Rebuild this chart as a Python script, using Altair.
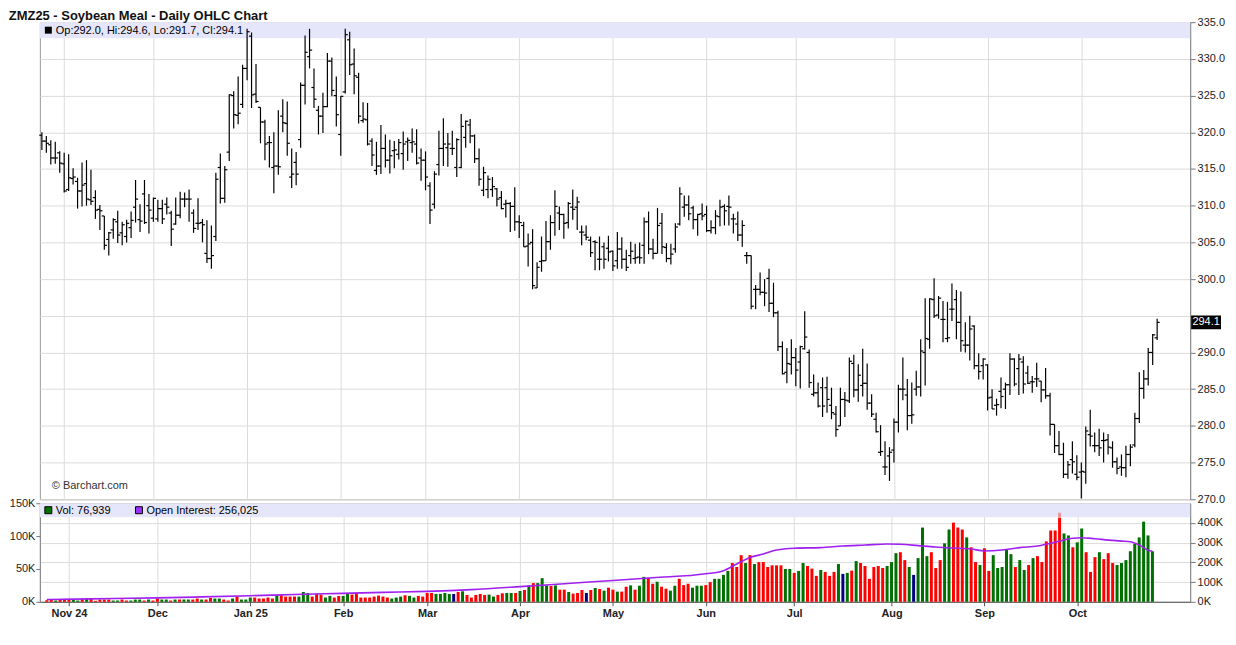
import altair as alt
import pandas as pd

# ---------------- data ----------------
opens = [319.6, 318.8, 318.3, 316.5, 317.2, 315.7, 312.2, 313.7, 313.3, 312.0,
         313.0, 310.8, 311.1, 309.5, 308.6, 305.4, 306.7, 307.8, 306.3, 305.8,
         307.0, 309.8, 308.1, 311.6, 310.0, 308.3, 308.2, 309.6, 310.2, 309.0,
         307.5, 308.7, 310.9, 310.9, 309.0, 307.6, 307.7, 303.5, 302.8, 305.8,
         315.2, 311.0, 317.3, 325.0, 322.3, 323.8, 328.7, 333.1, 325.2, 323.4,
         321.4, 318.6, 315.2, 315.4, 322.2, 321.2, 313.9, 315.9, 319.0, 326.4,
         330.3, 326.1, 323.0, 322.2, 323.5, 329.7, 325.0, 319.7, 325.5, 332.6,
         329.3, 327.5, 321.6, 321.7, 318.8, 314.8, 315.4, 317.8, 316.2, 317.5,
         317.0, 317.1, 318.7, 318.6, 318.4, 316.5, 316.2, 312.7, 310.2, 315.6,
         317.8, 317.9, 317.8, 315.2, 315.2, 319.3, 321.0, 319.5, 316.4, 312.1,
         312.2, 312.2, 312.3, 311.1, 310.2, 310.3, 309.9, 307.8, 307.3, 304.5,
         305.0, 298.8, 302.4, 302.5, 305.1, 307.7, 309.0, 308.8, 307.7, 309.8,
         309.8, 306.4, 306.0, 305.3, 305.1, 302.7, 304.4, 304.2, 303.8, 302.5,
         304.1, 302.7, 303.2, 302.8, 303.0, 304.6, 307.8, 304.1, 303.5, 307.6,
         304.3, 302.8, 304.1, 307.5, 309.8, 310.1, 309.7, 308.1, 308.9, 308.8,
         306.6, 307.0, 308.5, 309.9, 309.9, 308.2, 307.5, 306.0, 303.2, 303.2,
         298.6, 298.6, 298.2, 300.1, 296.7, 295.4, 290.8, 287.3, 288.4, 289.3,
         288.7, 290.5, 290.0, 284.3, 284.5, 285.2, 285.2, 282.8, 281.6, 280.0,
         283.6, 283.4, 288.5, 284.9, 285.5, 285.8, 283.1, 280.9, 276.4, 274.4,
         275.9, 276.7, 280.5, 285.0, 284.2, 281.4, 285.0, 285.3, 290.0, 291.8,
         297.2, 295.1, 294.5, 291.9, 295.9, 297.2, 294.1, 291.0, 291.0, 293.6,
         288.2, 288.2, 288.3, 283.9, 282.8, 284.7, 285.0, 285.6, 289.1, 287.8,
         288.7, 287.2, 286.0, 286.4, 286.1, 284.9, 284.1, 280.2, 277.3, 276.1,
         273.4, 275.4, 273.4, 273.7, 273.7, 278.8, 277.3, 277.3, 278.0, 278.1,
         277.0, 275.1, 274.4, 274.3, 276.1, 277.4, 281.0, 285.1, 286.4, 290.0,
         292.0]
highs = [320.0, 319.5, 318.9, 318.7, 317.4, 317.2, 317.0, 315.1, 313.8, 315.9,
         316.2, 314.9, 312.1, 310.1, 308.6, 306.4, 308.3, 309.3, 307.8, 308.1,
         309.2, 313.5, 310.2, 313.5, 311.6, 311.1, 310.8, 310.8, 311.1, 309.3,
         311.1, 311.9, 311.8, 312.2, 309.5, 311.0, 308.2, 308.0, 307.3, 314.5,
         317.1, 315.4, 325.2, 325.6, 327.6, 329.2, 334.1, 333.6, 329.3, 323.4,
         321.7, 319.5, 320.0, 323.0, 324.5, 324.2, 317.8, 317.3, 326.8, 333.2,
         334.1, 328.7, 323.6, 325.4, 330.8, 330.2, 327.6, 324.9, 334.1, 333.7,
         331.4, 328.1, 324.1, 324.0, 319.2, 318.7, 321.0, 319.7, 319.0, 318.8,
         319.1, 320.1, 319.3, 320.5, 320.4, 317.8, 317.4, 313.2, 314.7, 320.2,
         321.9, 319.9, 320.2, 319.2, 322.5, 321.6, 321.8, 319.7, 317.8, 315.3,
         314.1, 313.9, 312.4, 312.0, 310.8, 310.5, 312.5, 308.7, 307.8, 306.2,
         306.8, 302.3, 305.8, 307.9, 308.7, 312.1, 309.9, 308.9, 310.5, 312.2,
         311.2, 307.3, 307.3, 305.8, 305.3, 305.8, 305.0, 305.9, 303.9, 306.4,
         305.7, 304.0, 305.1, 304.8, 305.0, 308.4, 309.2, 305.5, 309.7, 309.0,
         304.9, 304.8, 307.6, 312.5, 311.4, 311.4, 310.0, 308.9, 310.3, 310.0,
         308.0, 309.4, 310.8, 310.2, 311.4, 308.9, 309.2, 308.0, 303.7, 303.2,
         299.2, 300.9, 300.0, 301.4, 299.5, 295.7, 291.5, 290.6, 291.8, 290.6,
         290.9, 295.6, 290.4, 287.0, 285.9, 286.6, 286.7, 285.2, 282.7, 285.2,
         284.6, 289.3, 289.7, 288.4, 290.5, 288.5, 284.3, 281.8, 280.1, 277.9,
         277.1, 281.0, 285.6, 289.3, 286.4, 285.9, 287.5, 291.8, 297.4, 297.4,
         300.1, 297.7, 297.0, 296.9, 299.4, 298.5, 298.3, 294.1, 295.0, 293.7,
         289.9, 289.2, 288.4, 285.0, 283.7, 286.6, 285.9, 289.9, 289.2, 289.8,
         289.5, 288.2, 286.8, 288.6, 286.1, 287.9, 284.5, 280.2, 279.3, 277.7,
         275.2, 277.9, 276.0, 275.0, 279.9, 282.2, 279.1, 279.6, 279.1, 278.9,
         277.9, 275.7, 276.1, 277.3, 277.5, 281.8, 287.3, 287.6, 290.6, 292.5,
         294.6]
lows = [317.6, 317.2, 315.6, 315.7, 314.5, 311.8, 312.0, 312.9, 309.6, 309.9,
        310.0, 310.1, 308.2, 306.7, 304.0, 303.2, 305.5, 304.9, 304.6, 305.0,
        305.6, 307.7, 306.4, 307.5, 306.2, 307.8, 307.8, 307.5, 308.8, 304.5,
        307.4, 308.3, 309.8, 307.8, 306.3, 306.7, 305.0, 302.2, 301.4, 305.2,
        310.3, 310.4, 316.1, 320.5, 321.1, 323.3, 327.1, 323.3, 324.0, 318.5,
        316.2, 315.2, 311.7, 314.2, 320.0, 316.8, 312.4, 312.8, 317.9, 323.8,
        328.7, 323.3, 319.7, 319.9, 323.4, 324.9, 320.8, 316.8, 325.3, 327.8,
        325.2, 321.2, 321.3, 318.2, 315.4, 314.2, 314.3, 315.2, 314.4, 315.1,
        316.3, 314.9, 316.1, 317.2, 315.6, 313.4, 312.1, 307.5, 309.6, 314.1,
        315.4, 315.3, 316.9, 313.9, 315.1, 317.9, 318.5, 315.8, 312.7, 311.3,
        311.0, 311.2, 309.9, 309.5, 308.4, 306.4, 306.6, 305.6, 304.4, 301.7,
        298.6, 298.8, 301.0, 302.5, 304.0, 305.9, 306.7, 305.5, 306.9, 308.1,
        306.7, 304.6, 305.3, 303.0, 301.2, 301.2, 301.4, 302.4, 301.1, 301.4,
        301.4, 301.1, 302.1, 302.1, 302.1, 302.1, 303.4, 302.7, 303.5, 303.4,
        302.3, 302.0, 303.6, 307.3, 308.5, 308.0, 306.8, 305.9, 308.0, 306.4,
        306.2, 306.1, 307.2, 307.3, 307.3, 306.2, 305.2, 304.4, 302.1, 295.9,
        295.9, 297.8, 296.3, 295.5, 294.8, 290.2, 287.0, 285.8, 287.0, 285.4,
        285.1, 290.4, 285.2, 284.0, 282.5, 281.2, 281.8, 280.9, 278.5, 280.0,
        281.2, 283.1, 283.9, 283.3, 284.0, 282.2, 281.2, 279.1, 275.9, 273.3,
        272.5, 275.0, 279.1, 283.5, 279.4, 280.3, 284.1, 284.0, 285.5, 290.5,
        294.7, 294.6, 291.4, 291.4, 294.3, 291.8, 290.1, 290.0, 288.9, 287.7,
        286.3, 286.3, 282.1, 282.3, 281.4, 282.4, 282.3, 284.2, 285.4, 284.2,
        284.4, 285.7, 284.5, 285.3, 283.2, 283.7, 278.7, 276.3, 276.0, 272.9,
        272.8, 273.5, 272.6, 270.1, 272.1, 277.2, 276.4, 275.9, 275.0, 276.1,
        274.3, 273.4, 273.2, 273.0, 274.5, 277.1, 280.4, 283.7, 285.5, 288.3,
        291.7]
closes = [318.8, 318.5, 316.5, 316.5, 315.8, 312.0, 313.8, 313.9, 312.0, 312.8,
          310.9, 310.6, 309.4, 309.3, 304.6, 306.3, 308.1, 306.0, 307.4, 307.6,
          308.0, 310.9, 307.9, 307.7, 309.4, 311.0, 309.6, 308.2, 309.8, 306.8,
          308.7, 310.9, 310.9, 310.9, 306.9, 307.6, 307.4, 302.8, 303.2, 313.6,
          311.0, 314.9, 325.1, 322.4, 322.6, 328.7, 333.7, 325.1, 324.2, 321.4,
          318.4, 318.6, 315.4, 315.3, 321.3, 318.5, 314.3, 314.3, 326.4, 330.9,
          331.2, 324.5, 322.2, 323.5, 329.7, 325.7, 322.4, 324.9, 333.3, 329.2,
          327.7, 322.2, 321.8, 318.4, 316.9, 315.4, 317.8, 316.2, 316.8, 317.6,
          318.6, 318.4, 318.9, 318.7, 315.8, 316.2, 313.9, 309.4, 314.3, 317.8,
          318.4, 318.4, 317.8, 319.0, 320.8, 321.5, 319.5, 316.4, 313.6, 314.5,
          313.6, 312.6, 310.9, 309.6, 310.3, 309.9, 307.8, 307.7, 304.4, 304.8,
          299.1, 301.6, 302.5, 305.1, 307.7, 309.9, 308.8, 307.6, 310.3, 309.5,
          310.5, 306.4, 305.7, 303.6, 305.0, 302.7, 302.7, 303.7, 301.8, 304.1,
          302.7, 301.6, 303.8, 302.9, 302.9, 307.8, 304.1, 303.5, 307.3, 304.4,
          302.8, 303.4, 307.1, 311.6, 310.1, 308.9, 308.1, 308.8, 308.6, 306.6,
          307.0, 308.6, 309.8, 309.3, 309.8, 308.2, 306.0, 307.3, 303.2, 296.3,
          298.6, 298.2, 298.1, 296.7, 295.4, 290.8, 287.1, 288.5, 289.3, 287.6,
          290.8, 292.1, 285.9, 284.5, 282.7, 282.7, 283.6, 281.8, 279.5, 283.6,
          283.5, 288.8, 284.9, 286.9, 285.8, 283.1, 281.6, 279.2, 276.5, 274.4,
          276.4, 280.5, 285.0, 285.0, 281.4, 281.5, 285.3, 290.2, 291.9, 297.3,
          295.0, 297.4, 294.5, 292.0, 295.9, 294.1, 291.6, 291.0, 293.2, 288.2,
          287.4, 289.1, 283.8, 282.3, 282.9, 284.0, 285.6, 289.1, 285.7, 289.1,
          285.7, 285.8, 286.0, 286.4, 284.9, 284.1, 280.2, 277.3, 276.1, 273.4,
          274.7, 275.1, 273.0, 273.8, 279.3, 278.6, 277.3, 277.0, 278.0, 277.1,
          275.1, 274.2, 274.3, 276.1, 277.1, 281.0, 285.1, 286.4, 290.0, 292.4,
          294.1]

# daily volume in thousands (left axis) and its colour code (g up, r down, n unchanged)
vol_k = [2.5, 3.5, 2, 3, 4.5, 4.5, 3.5, 2, 4, 5,
         5, 1.5, 3.5, 3.5, 3.5, 2, 2, 3.5, 2, 2,
         3.5, 3.5, 2, 3.5, 2, 5, 3.5, 3.5, 2, 3.5,
         3.5, 3.5, 3.5, 3.5, 5, 3.5, 3.5, 6, 5, 5,
         3.5, 2, 5, 8, 3.5, 3.5, 6.5, 6.5, 5, 5,
         6.5, 5, 9.5, 10, 8, 8, 8, 8, 15, 13.5,
         8, 12, 11, 6.5, 9, 6.5, 9, 9, 12, 11,
         13.5, 6.5, 6.5, 6.5, 8, 9.5, 8, 6.5, 5, 6.5,
         8, 10, 9, 6.5, 9, 8, 13.5, 13.5, 12, 12,
         13.5, 12, 12, 15, 16, 10.5, 6.5, 10.5, 12, 10.5,
         11, 8, 10.5, 13, 13.5, 13.5, 13.5, 16.5, 18, 25,
         28.5, 28.5, 36, 25, 24, 25, 18.5, 18.5, 15, 12.5,
         13.5, 18, 13.5, 18, 21, 19.5, 17, 21.5, 18.5, 15.5,
         15.5, 23, 25, 18.5, 24.5, 38, 36.5, 27.5, 30.5, 23,
         20, 17, 24.5, 35, 25.5, 27.5, 21.5, 24.5, 24.5, 25.5,
         30, 35, 35, 41, 47, 59, 53, 71, 59, 71,
         57.5, 60.5, 60.5, 53, 55.5, 55.5, 55.5, 50, 50, 44,
         47, 59, 54.5, 50.5, 39.5, 48.5, 45.5, 39.5, 45.5, 57.5,
         42.5, 44, 47.5, 62, 59, 54.5, 35, 53, 54.5, 51.5,
         54.5, 60.5, 74, 75.5, 63.5, 53, 41, 66.5, 113, 69.5,
         75.5, 51.5, 63.5, 89, 110, 120.5, 113, 110, 98, 83,
         60.5, 56, 81.5, 47, 71, 51.5, 53, 80, 72.5, 53,
         63.5, 48.5, 56, 66.5, 69.5, 60.5, 92, 108.5, 108.5, 128,
         104, 101, 83, 90.5, 111.5, 75.5, 45.5, 68, 75.5, 65,
         74, 59, 56, 59, 63.5, 77, 88, 98, 122, 101,
         76.9]
vol_col = list("rrgrrrggrg" "rrrrrggrrg" "ggrgrrggrg" "rggrrgrrgg" "rrgrgggrrr"
               "rrgrrrrggg" "rrrggrrggr" "rrrrrrrrgg" "grggrrrrgg" "ggnrgrrrrr"
               "ggrrggrgrg" "rgggrgrrgr" "rrnrgrgrrg" "rrgrggrrgr" "rggrrrgggr"
               "rggggrrrgr" "grrrrrrggr" "ggrrrgrrrg" "ngrgrrrrrr" "gggrrgnggg"
               "rrrggrrrgr" "rgrrgggggr" "ggrgrrrrrr" "ggrggrrrgr" "rrgggggggg"
               "g")
extra_idx = [229]          # light-red top part of one volume bar
extra_lo = [128]
extra_hi = [135.5]

# open interest (thousands, right axis of the lower panel)
oi_idx = [0, 10, 25, 35, 46, 56, 67, 76, 86, 96, 107, 117, 128, 137, 149, 153, 156,
          159, 162, 165, 169, 175, 180, 185, 190, 193, 197, 201, 205, 209, 212, 216,
          220, 224, 227, 229, 232, 234, 237, 240, 243, 245, 247, 249, 250]
oi_k = [12, 15, 20, 25, 31, 37, 43, 48, 53, 62, 77, 92, 108, 122, 142, 158, 192,
        225, 242, 263, 272, 275, 283, 288, 293, 292, 285, 278, 273, 268, 258, 263,
        275, 283, 297, 308, 322, 325, 320, 313, 308, 305, 288, 262, 256]

month_idx = [5, 25, 46, 67, 86, 107, 128, 149, 169, 191, 212, 233]
month_lbl = ["Nov 24", "Dec", "Jan 25", "Feb", "Mar", "Apr", "May", "Jun", "Jul",
             "Aug", "Sep", "Oct"]
price_ticks = [270, 275, 280, 285, 290, 295, 300, 305, 310, 315, 320, 325, 330, 335]
vol_ticks = [0, 50, 100, 150]
oi_ticks = [0, 100, 200, 300, 400]
last_volume = "76,939"
last_oi = "256,025"
title_txt = "ZMZ25 - Soybean Meal - Daily OHLC Chart"

# ---------------- chart ----------------
n = len(closes)
idx = list(range(n))
ohlc = pd.DataFrame({"i": idx, "o": opens, "h": highs, "l": lows, "c": closes})
vol = pd.DataFrame({"i": idx, "v": vol_k, "col": vol_col})
extra = pd.DataFrame({"i": extra_idx, "lo": extra_lo, "hi": extra_hi})
oi = pd.DataFrame({"i": oi_idx, "oi": oi_k})

W, HT, HB = 1155, 479, 99
FONT = "Liberation Sans"
GREEN, RED, NAVY = "#007000", "#ff0000", "#000080"

xs = alt.Scale(domain=[-0.45, 257.4], nice=False, zero=False)
ps = alt.Scale(domain=[270, 335], nice=False, zero=False)
vs = alt.Scale(domain=[0, 150], nice=False, zero=True)
os_ = alt.Scale(domain=[0, 500], nice=False, zero=True)

label_expr = " : ".join(f"datum.value == {m} ? '{l}'" for m, l in zip(month_idx, month_lbl)) + " : ''"
# the 295.0 label is hidden behind the last-price box in the original
price_label_expr = f"abs(datum.value - {round(closes[-1])}) < 2 ? '' : format(datum.value, '.1f')"

x_top_axis = alt.Axis(values=month_idx, grid=True, gridColor="#dcdcdc", labels=False,
                      ticks=False, domain=False, title=None)
x_bot_axis = alt.Axis(values=month_idx, grid=True, gridColor="#dcdcdc", labelExpr=label_expr,
                      labelFontWeight="bold", labelFontSize=11, labelColor="#222",
                      tickSize=4, tickColor="#555", domainColor="#555", title=None,
                      labelPadding=2, labelFlush=False, labelOverlap=False)
price_axis = alt.Axis(orient="right", values=price_ticks, labelExpr=price_label_expr, grid=True,
                      gridColor="#dcdcdc", tickSize=5, tickColor="#777", domainColor="#888",
                      labelFontSize=11, labelColor="#222", labelPadding=2, title=None)
vol_axis = alt.Axis(orient="left", values=vol_ticks, labelExpr="datum.value + 'K'", grid=False,
                    tickSize=4, tickColor="#777", domainColor="#888", labelFontSize=11,
                    labelColor="#222", labelPadding=1, title=None)
oi_axis = alt.Axis(orient="right", values=oi_ticks, labelExpr="datum.value + 'K'", grid=True,
                   gridColor="#dcdcdc", tickSize=5, tickColor="#777", domainColor="#888",
                   labelFontSize=11, labelColor="#222", labelPadding=2, title=None)

X = lambda ax: alt.X("i:Q", scale=xs, axis=ax)
one = pd.DataFrame({"k": [0]})

band = alt.Chart(one).mark_rect(color="#e6e6fa").encode(
    x=alt.value(0), x2=alt.value(W), y=alt.value(0), y2=alt.value(16))
base = alt.Chart(ohlc)
hl = base.mark_rule(color="black", strokeWidth=1.2).encode(
    x=X(x_top_axis), y=alt.Y("l:Q", scale=ps, axis=price_axis), y2="h:Q")
op = base.mark_rule(color="black", strokeWidth=1.2, xOffset=-2.6, x2Offset=0).encode(
    x=X(x_top_axis), x2="i:Q", y=alt.Y("o:Q", scale=ps, axis=price_axis))
cl = base.mark_rule(color="black", strokeWidth=1.2, xOffset=0, x2Offset=2.6).encode(
    x=X(x_top_axis), x2="i:Q", y=alt.Y("c:Q", scale=ps, axis=price_axis))

hdr = f"Op:{opens[-1]:.1f}, Hi:{highs[-1]:.1f}, Lo:{lows[-1]:.1f}, Cl:{closes[-1]:.1f}"
hdr_sq = alt.Chart(one).mark_square(size=49, color="black", opacity=1).encode(
    x=alt.value(8.5), y=alt.value(8))
hdr_tx = alt.Chart(pd.DataFrame({"t": [hdr]})).mark_text(
    align="left", baseline="middle", fontSize=11, color="#000").encode(
    x=alt.value(16), y=alt.value(8.5), text="t:N")
copy_tx = alt.Chart(pd.DataFrame({"t": ["\u00a9 Barchart.com"]})).mark_text(
    align="left", baseline="middle", fontSize=11, color="#333").encode(
    x=alt.value(12), y=alt.value(HT - 13), text="t:N")
last = pd.DataFrame({"p": [closes[-1]], "t": [f"{closes[-1]:.1f}"]})
last_box = alt.Chart(last).mark_point(
    shape="M-1,-0.46L1,-0.46L1,0.46L-1,0.46Z", size=900, filled=True, color="black",
    opacity=1).encode(x=alt.value(W + 16), y=alt.Y("p:Q", scale=ps, axis=price_axis))
last_tx = alt.Chart(last).mark_text(fontSize=11, color="white", baseline="middle").encode(
    x=alt.value(W + 16), y=alt.Y("p:Q", scale=ps, axis=price_axis), text="t:N")

top = alt.layer(band, hl, op, cl, hdr_sq, hdr_tx, copy_tx, last_box, last_tx).properties(
    width=W, height=HT)

vband = alt.Chart(one).mark_rect(color="#e6e6fa").encode(
    x=alt.value(0), x2=alt.value(W), y=alt.value(0), y2=alt.value(14))
vbars = alt.Chart(vol).mark_bar(size=3).encode(
    x=X(x_bot_axis), y=alt.Y("v:Q", scale=vs, axis=vol_axis),
    color=alt.Color("col:N", scale=alt.Scale(domain=["g", "r", "n"], range=[GREEN, RED, NAVY]),
                    legend=None))
vextra = alt.Chart(extra).mark_bar(size=3, color="#e89a9a").encode(
    x=X(x_bot_axis), y=alt.Y("hi:Q", scale=vs, axis=None), y2="lo:Q")
oiline = alt.Chart(oi).mark_line(color="#a020f0", strokeWidth=1.6, interpolate="monotone").encode(
    x=X(x_bot_axis), y=alt.Y("oi:Q", scale=os_, axis=oi_axis))
leg = pd.DataFrame({"t": [f"Vol: {last_volume}", f"Open Interest: {last_oi}"],
                    "c": [GREEN, "#9b30ff"], "px": [8.5, 99.5], "tx": [16, 107]})
leg_sq = alt.Chart(leg).mark_square(size=49, opacity=1, stroke="black", strokeWidth=1).encode(
    x=alt.X("px:Q", scale=None), y=alt.value(7), fill=alt.Fill("c:N", scale=None))
leg_tx = alt.Chart(leg).mark_text(align="left", baseline="middle", fontSize=11, color="#000").encode(
    x=alt.X("tx:Q", scale=None), y=alt.value(7.5), text="t:N")

bottom = alt.layer(vband, vbars, vextra, oiline, leg_sq, leg_tx).resolve_scale(
    y="independent").properties(width=W, height=HB)

chart = alt.vconcat(top, bottom, spacing=4, bounds="flush").properties(
    title=alt.TitleParams(title_txt, anchor="start", fontSize=13, fontWeight="bold",
                          color="#111", font=FONT, offset=-7),
    padding={"left": 0, "top": 0, "right": 2, "bottom": 2},
).configure(font=FONT).configure_view(stroke="#999")

chart.save("out.html", embed_options={"renderer": "svg", "actions": False})
